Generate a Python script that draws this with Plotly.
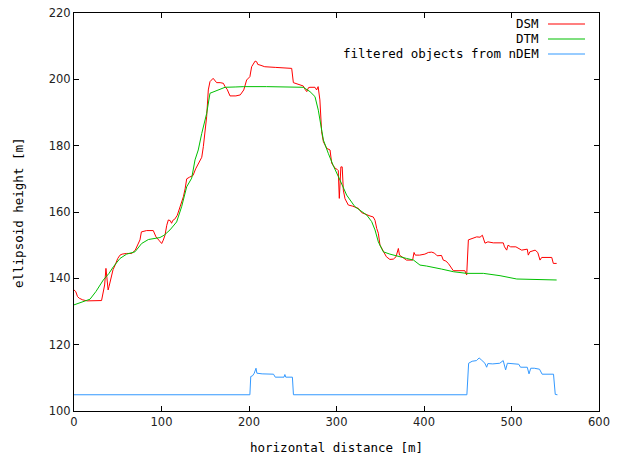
import plotly.graph_objects as go

# ---- data ----
dsm_x = [0, 2, 4, 6, 10, 15, 31.5, 33, 35, 36.5, 38, 39, 40, 42, 44.6, 47, 50, 52.6, 55, 60, 66, 70, 73, 75.4, 77, 83, 90.6,
         93.7, 97, 100.2, 102, 104, 106, 107.8, 110, 111.5, 113, 115, 118, 122, 125, 127, 128.8, 132, 136, 139, 142, 146,
         147.8, 149.5, 151.6, 153.5, 155.4, 159, 161, 163, 167, 170.7, 172.6, 175, 178.3, 185, 190, 194, 197.3, 201, 203,
         205, 207, 208.8, 210, 212.6, 218, 230, 243, 248.8, 250.7, 254.5, 262, 264, 266, 268, 269.7, 275.4, 277.3, 279,
         281, 283, 285, 288.8, 292.6, 294.5, 298.4, 301, 302, 303.2, 304, 305, 306.5, 307.8, 309.7, 313.5, 318, 325, 328.8,
         333, 338.3, 342, 344, 346, 347.8, 349.7, 353.5, 357, 361, 365, 368, 370.7, 372, 375, 380, 387, 388.6, 390, 395,
         401, 405, 408.8, 412, 415, 420, 422, 425, 427.8, 430, 433.5, 446.7, 448.8, 450.7, 455, 460.2, 464, 466.7, 469.7,
         473, 479.2, 490.6, 492, 494.5, 496, 499, 505, 511.6, 518, 519.2, 521, 527, 530, 532.6, 534.5, 546, 547.8, 551.6]
dsm_y = [136.5, 136, 134.5, 134, 133.5, 133.2, 133.3, 135, 138, 143, 140, 136.5, 137.5, 140, 142.6, 144, 146, 147, 147.3,
         147.5, 147.5, 148.5, 150, 151.6, 154, 154.4, 154.4, 152.5, 151.5, 150.5, 151.5, 153, 156, 157.6, 157.4, 156.6,
         157.5, 157.8, 159, 162, 164.6, 167, 170, 170.5, 171, 173, 174.7, 176.5, 179.7, 184, 188.7, 196.8, 199.3, 200.3,
         199.5, 199, 199, 198.8, 197.8, 197, 195, 195, 195.3, 196.8, 199.8, 200.8, 203.8, 204.5, 205.5, 205.3, 204.5,
         204.3, 203.8, 203.6, 203.5, 203.3, 199, 198.6, 198, 197, 196.3, 197.5, 197.6, 197.6, 196.8, 197.8, 193.8, 184.2,
         181.2, 179.2, 178.7, 174.7, 173.2, 172.8, 172.5, 164.1, 170, 173.6, 173.6, 166.6, 164, 162.1, 161.8, 161.1,
         159.8, 159.3, 158.8, 158.5, 157.5, 155, 153.6, 150, 148, 146.5, 145.7, 145.8, 146.5, 149, 147, 146.5, 145.5,
         145.5, 147.8, 147, 147, 147.3, 147.8, 147.9, 147.6, 146.8, 146.9, 145.5, 145.2, 144.5, 143.5, 142.3, 142.3,
         141, 151.6, 152, 152.5, 152.4, 153, 150.6, 151, 150.7, 150.7, 149.5, 148.5, 150, 149.5, 149.5, 148.5, 148.8,
         147, 148, 148.5, 147.8, 145.5, 146.3, 146.3, 144.5, 144.5]

dtm_x = [0, 5, 10, 18.3, 25, 33.5, 40, 45, 52.6, 60.2, 69.7, 77.3, 85, 92, 98.2, 103, 109.7, 117.3, 123, 128.8, 134.5,
         138.3, 142, 146, 151.6, 155.4, 163, 172.6, 185, 194, 220, 240, 254.5, 262, 269.7, 275.4, 279.2, 282, 285,
         290.6, 296.3, 304, 311.6, 321, 328.8, 334.5, 340.2, 344, 347.8, 353.5, 361, 368.7, 380, 388, 395.4, 403,
         410.6, 420, 433.5, 448.8, 467.8, 486.9, 506, 525, 540, 551.6]
dtm_y = [132, 132.5, 133, 133.7, 136, 139.5, 141.5, 143.5, 146, 147.3, 148, 150.5, 151.7, 152, 152.3, 153, 154.6, 157,
         161.6, 167.6, 170.2, 175.7, 178.7, 183.7, 189.7, 195.8, 196.5, 197.6, 197.7, 197.8, 197.8, 197.8, 197.8,
         197.6, 196.3, 194.8, 190.7, 186.7, 181.7, 177.7, 174, 169.6, 165.1, 161.6, 160.1, 159.1, 157.1, 154.6, 151,
         148, 147.3, 146.7, 146, 145.5, 144, 143.7, 143.2, 142.8, 142, 141.5, 141.5, 140.8, 139.8, 139.7, 139.5, 139.5]

ndem_x = [0, 201, 202, 204, 206, 207, 208, 209, 215, 228, 230, 240, 241, 242, 249.6, 250.8, 449, 451, 455, 460, 463,
          466, 469.6, 471.6, 473, 478.6, 486.6, 490.5, 493.3, 495.3, 508.3, 510.3, 518, 520, 522, 526, 532, 535, 548,
          550, 552.5]
ndem_y = [104.9, 104.9, 110.4, 110.6, 111.4, 112, 112.9, 111.4, 111.2, 111.1, 110.2, 110.2, 111, 110.2, 110.2, 104.9,
          104.9, 114.4, 115, 115.2, 116, 115.3, 114.4, 113.2, 114.3, 114.2, 114.4, 115.2, 112.4, 114.4, 114.1, 113.2,
          113.2, 111.2, 112.9, 112.9, 112.6, 111.1, 111.1, 105, 104.9]

series_names = ["DSM", "DTM", "filtered objects from nDEM"]
series_colors = ["#ff0000", "#00c000", "#3399ff"]

x_ticks = [0, 100, 200, 300, 400, 500, 600]
y_ticks = [100, 120, 140, 160, 180, 200, 220]

W, H = 623, 459
L, R, T, B = 74, 24, 13, 48
PW, PH = W - L - R, H - T - B


def px(xp):
    return (xp - L) / PW


def py(yp):
    return 1 - (yp - T) / PH


fig = go.Figure()
for xs, ys, name, col in zip([dsm_x, dtm_x, ndem_x], [dsm_y, dtm_y, ndem_y], series_names, series_colors):
    fig.add_trace(go.Scatter(x=xs, y=ys, mode="lines", name=name,
                             line=dict(color=col, width=1), showlegend=False))

mono = "DejaVu Sans Mono"
# custom gnuplot-style legend (text right-aligned, sample line at right)
leg_y = [24, 39, 54]
for name, col, yy in zip(series_names, series_colors, leg_y):
    fig.add_annotation(xref="paper", yref="paper", x=px(541), y=py(yy),
                       text=name, showarrow=False, xanchor="right", yanchor="middle",
                       font=dict(family=mono, size=12.5, color="#000000"))
    fig.add_shape(type="line", xref="paper", yref="paper",
                  x0=px(548), x1=px(585), y0=py(yy), y1=py(yy),
                  line=dict(color=col, width=1.2))

# axis titles
fig.add_annotation(xref="paper", yref="paper", x=px(336), y=py(448), text="horizontal distance [m]",
                   showarrow=False, xanchor="center", yanchor="middle",
                   font=dict(family=mono, size=12.5, color="#000000"))
fig.add_annotation(xref="paper", yref="paper", x=px(18), y=py(212), text="ellipsoid height [m]",
                   showarrow=False, xanchor="center", yanchor="middle", textangle=-90,
                   font=dict(family=mono, size=12.5, color="#000000"))

axis_common = dict(showgrid=False, zeroline=False, showline=True, linecolor="#000000", linewidth=1,
                   mirror="ticks", ticks="inside", ticklen=5, tickcolor="#000000", tickwidth=1,
                   automargin=False,
                   tickfont=dict(family="DejaVu Sans", size=11.5, color="#222222"))

fig.update_layout(
    width=W, height=H,
    margin=dict(l=L, r=R, t=T, b=B),
    paper_bgcolor="white", plot_bgcolor="white",
    xaxis=dict(range=[0, 600], tickvals=x_ticks, ticktext=[str(v) for v in x_ticks], **axis_common),
    yaxis=dict(range=[100, 220], tickvals=y_ticks, ticktext=[str(v) for v in y_ticks], **axis_common),
)

fig.write_html("out.html", config={"displayModeBar": False},
               post_script="document.body.style.margin='0';")
